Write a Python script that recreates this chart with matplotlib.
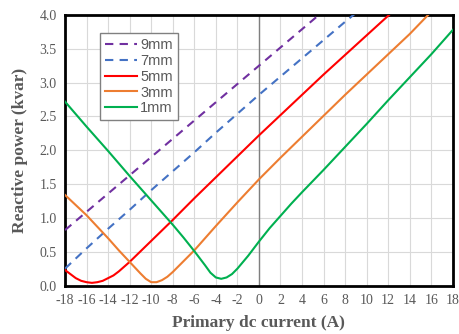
import numpy as np
from matplotlib import pyplot as plt

x_9mm = [-18, -16, -14, -12, -10, -8, -6, -4, -2, 0, 2, 4, 6]
y_9mm = [0.82, 1.09, 1.36, 1.63, 1.90, 2.17, 2.44, 2.71, 2.98, 3.25, 3.52, 3.79, 4.06]

x_7mm = [-18, -16, -14, -12, -10, -8, -6, -4, -2, 0, 2, 4, 6, 8, 9]
y_7mm = [0.25, 0.55, 0.84, 1.12, 1.41, 1.69, 1.97, 2.26, 2.54, 2.82, 3.09, 3.36, 3.63, 3.90, 4.03]

x_5mm = [-18, -17.5, -17, -16.5, -16, -15.5, -15, -14.5, -14, -13.5, -13, -12.5, -12, -10, -8, -6, -4, -2, 0, 2, 4, 6, 8, 10, 12, 12.5]
y_5mm = [0.23, 0.17, 0.11, 0.07, 0.05, 0.04, 0.05, 0.07, 0.11, 0.15, 0.21, 0.28, 0.35, 0.66, 0.97, 1.29, 1.60, 1.91, 2.22, 2.52, 2.82, 3.12, 3.41, 3.70, 3.99, 4.06]

x_3mm = [-18, -17, -16, -15, -14, -13, -12, -11, -10.5, -10, -9.5, -9, -8.5, -8, -7, -6, -4, -2, 0, 2, 4, 6, 8, 10, 12, 14, 16]
y_3mm = [1.34, 1.19, 1.04, 0.87, 0.70, 0.52, 0.35, 0.18, 0.10, 0.05, 0.05, 0.08, 0.13, 0.20, 0.36, 0.52, 0.88, 1.23, 1.57, 1.89, 2.20, 2.51, 2.82, 3.12, 3.42, 3.72, 4.05]

x_1mm = [-18, -16, -14, -12, -10, -8, -7, -6, -5, -4.5, -4, -3.5, -3, -2.5, -2, -1, 0, 1, 2, 3, 4, 6, 8, 10, 12, 14, 16, 18]
y_1mm = [2.72, 2.35, 1.99, 1.62, 1.26, 0.90, 0.71, 0.51, 0.30, 0.19, 0.12, 0.10, 0.12, 0.17, 0.25, 0.44, 0.65, 0.85, 1.03, 1.21, 1.38, 1.71, 2.05, 2.39, 2.74, 3.08, 3.42, 3.78]

x_ticks = list(range(-18, 19, 2))
y_ticks = [0.0, 0.5, 1.0, 1.5, 2.0, 2.5, 3.0, 3.5, 4.0]

grey = "#595959"

fig = plt.figure(figsize=(4.59, 3.34), dpi=100)
ax = fig.add_axes([0.1416, 0.145, 0.845, 0.81])

ax.axvline(0, color="#7f7f7f", lw=1.0, zorder=1)

ax.plot(x_9mm, y_9mm, color="#7030A0", lw=1.5, ls=(0, (4, 3)), label="9mm", zorder=3)
ax.plot(x_7mm, y_7mm, color="#4472C4", lw=1.5, ls=(0, (4, 3)), label="7mm", zorder=3)
ax.plot(x_5mm, y_5mm, color="#FF0000", lw=1.5, label="5mm", zorder=3)
ax.plot(x_3mm, y_3mm, color="#ED7D31", lw=1.5, label="3mm", zorder=3)
ax.plot(x_1mm, y_1mm, color="#00B050", lw=1.5, label="1mm", zorder=3)

ax.set_xlim(-18, 18)
ax.set_ylim(0, 4.0)
ax.set_xticks(x_ticks)
ax.set_xticklabels([str(t) for t in x_ticks])
ax.set_yticks(y_ticks)
ax.set_yticklabels(["%.1f" % t for t in y_ticks])
ax.grid(True, color="#d9d9d9", lw=0.8, zorder=0)
ax.set_axisbelow(True)
ax.tick_params(length=0, pad=6, labelsize=10, labelcolor=grey)
for lab in ax.get_xticklabels() + ax.get_yticklabels():
    lab.set_family("Liberation Serif")

for s in ax.spines.values():
    s.set_linewidth(2.0)
    s.set_color("black")

ax.set_xlabel("Primary dc current (A)", family="Liberation Serif", fontweight="bold",
              fontsize=12.5, color=grey, labelpad=6)
ax.set_ylabel("Reactive power (kvar)", family="Liberation Serif", fontweight="bold",
              fontsize=12.5, color=grey, labelpad=8)

leg = ax.legend(loc="upper left", bbox_to_anchor=(0.09, 0.933), borderaxespad=0,
                prop={"family": "Liberation Sans", "size": 10.5}, fancybox=False,
                edgecolor="#808080", framealpha=1, handlelength=2.2,
                labelspacing=0.12, borderpad=0.35, handletextpad=0.2)
leg.get_frame().set_linewidth(1.0)
for t in leg.get_texts():
    t.set_color(grey)

fig.savefig("out.png", dpi=100)
